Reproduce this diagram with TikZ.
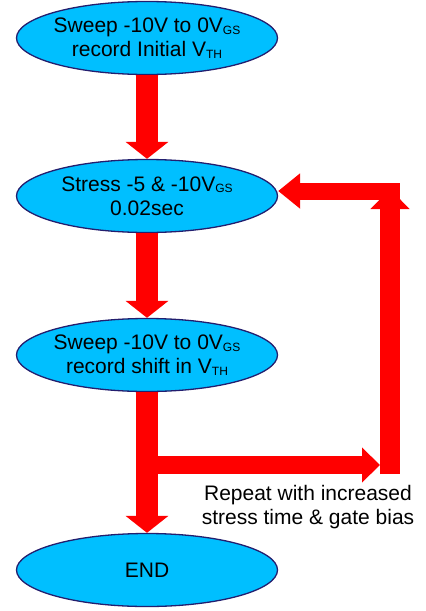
\documentclass[tikz,border=0pt]{standalone}
\usepackage{fontspec}
\setmainfont{Liberation Sans}
\usetikzlibrary{shapes.geometric,arrows.meta}

\definecolor{stepfill}{RGB}{0,191,255}
\definecolor{stepline}{RGB}{35,30,110}
\newcommand{\lowtxt}[1]{\raisebox{-1.5pt}{\fontsize{12}{12}\selectfont #1}}

\begin{document}
\begin{tikzpicture}[x=1pt, y=1pt,
    stepbox/.style={ellipse, draw=stepline, line width=1.3pt, fill=stepfill,
        minimum width=261pt, minimum height=73pt, inner xsep=-5pt, inner ysep=0pt,
        align=center, font=\fontsize{21}{24}\selectfont},
    mainarrow/.style={red, line width=22pt, -{Triangle[width=42pt,length=17pt]}},
    looparrow/.style={red, line width=17pt, -{Triangle[width=34pt,length=22pt]}}]

    \useasboundingbox (0,0) rectangle (426,-611);

    % Steps
    \node[stepbox] (sweep1) at (147,-38) {Sweep -10V to 0V\lowtxt{GS}\\record Initial V\lowtxt{TH}};
    \node[stepbox] (stress) at (147,-196) {Stress -5 \& -10V\lowtxt{GS}\\0.02sec};
    \node[stepbox] (sweep2) at (147,-355) {Sweep -10V to 0V\lowtxt{GS}\\record shift in V\lowtxt{TH}};
    \node[stepbox] (stop) at (147,-570) {END};

    % Main flow
    \draw[mainarrow] (sweep1) -- (stress);
    \draw[mainarrow] (stress) -- (sweep2);
    \draw[mainarrow] (sweep2) -- (stop);

    % Repeat loop
    \coordinate (split) at (147,-465);
    \coordinate (branchend) at (380,-465);
    \coordinate (rightlow) at (390,-474);
    \coordinate (righttop) at (390,-189);
    \coordinate (backin) at (400,-191);
    \draw[looparrow, line width=18pt, -{Triangle[width=34pt,length=18pt]}] (split) -- (branchend);
    \draw[looparrow, line width=20pt, -{Triangle[width=38pt,length=20pt]}] (rightlow) -- (righttop);
    \draw[looparrow] (backin) -- (stress.east |- backin);

    \node[font=\fontsize{21}{24}\selectfont, align=center] (repeat) at (308,-507)
        {Repeat with increased\\stress time \& gate bias};
\end{tikzpicture}
\end{document}
